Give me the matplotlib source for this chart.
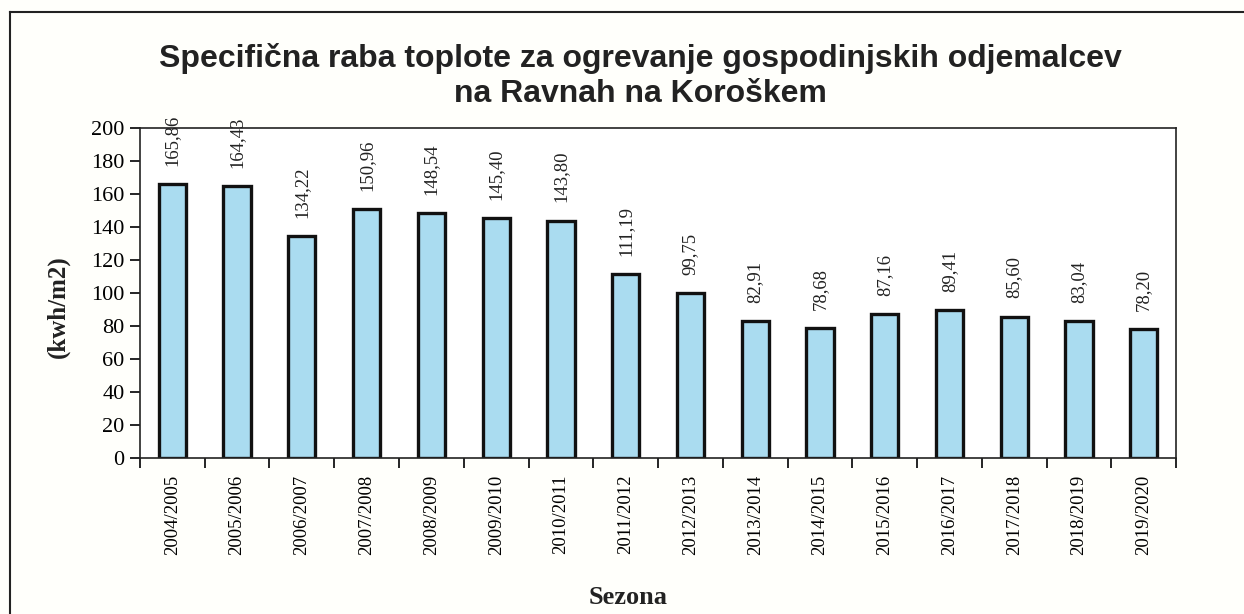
import numpy as np
import matplotlib.pyplot as plt
from matplotlib.lines import Line2D

seasons = ['2004/2005', '2005/2006', '2006/2007', '2007/2008', '2008/2009', '2009/2010',
           '2010/2011', '2011/2012', '2012/2013', '2013/2014', '2014/2015', '2015/2016',
           '2016/2017', '2017/2018', '2018/2019', '2019/2020']
values = [165.86, 164.43, 134.22, 150.96, 148.54, 145.40, 143.80, 111.19, 99.75,
          82.91, 78.68, 87.16, 89.41, 85.60, 83.04, 78.20]

serif = 'Liberation Serif'
fig = plt.figure(figsize=(12.44, 6.14), dpi=100, facecolor='#fffffb')
ax = fig.add_axes([0.1125, 0.254, 0.833, 0.538])
ax.set_facecolor('white')

x = np.arange(len(values))
ax.bar(x, values, width=0.42, color='#aadcf0', edgecolor='#111111', linewidth=2.4, zorder=2)
for xi, v in zip(x, values):
    ax.text(xi, v + 11, f'{v:.2f}'.replace('.', ','), rotation=90, ha='center', va='bottom',
            fontsize=13.5, family=serif, color='#222222', clip_on=False)

ax.set_xlim(-0.5, len(values) - 0.5)
ax.set_ylim(0, 200)
ax.set_yticks(range(0, 201, 20))
ax.set_yticklabels([str(t) for t in range(0, 201, 20)], family=serif, fontsize=16)
ax.set_xticks(x)
ax.set_xticklabels(seasons, rotation=90, family=serif, fontsize=13.5)
ax.tick_params(axis='x', length=0, pad=12)
ax.set_xticks(np.arange(-0.5, len(values)), minor=True)
ax.tick_params(axis='x', which='minor', length=7, width=1.2, direction='out')
ax.tick_params(axis='y', length=7, width=1.2, direction='out', pad=4)
for s in ax.spines.values():
    s.set_linewidth(1.2)
    s.set_color('#222222')

fig.text(58 / 1244, 1 - 307 / 614, '(kwh/m2)', rotation=90, ha='center', va='center',
         family=serif, fontsize=18, fontweight='bold', color='#222222')
fig.text(628 / 1244, 1 - 597 / 614, 'Sezona', ha='center', va='center', family=serif,
         fontsize=19, fontweight='bold', color='#222222')
fig.text(0.515, 1 - 76 / 614, 'Specifična raba toplote za ogrevanje gospodinjskih odjemalcev\nna Ravnah na Koroškem',
         ha='center', va='center', family='Liberation Sans', fontsize=23, fontweight='bold',
         linespacing=1.25, color='#222222')

# outer frame of the scanned chart
fig.add_artist(Line2D([10 / 1244, 10 / 1244], [0, 1 - 12 / 614], transform=fig.transFigure,
                      color='#222222', lw=1.5))
fig.add_artist(Line2D([10 / 1244, 1], [1 - 12 / 614, 1 - 12 / 614], transform=fig.transFigure,
                      color='#222222', lw=1.5))

fig.savefig('out.png', dpi=100, facecolor=fig.get_facecolor())
